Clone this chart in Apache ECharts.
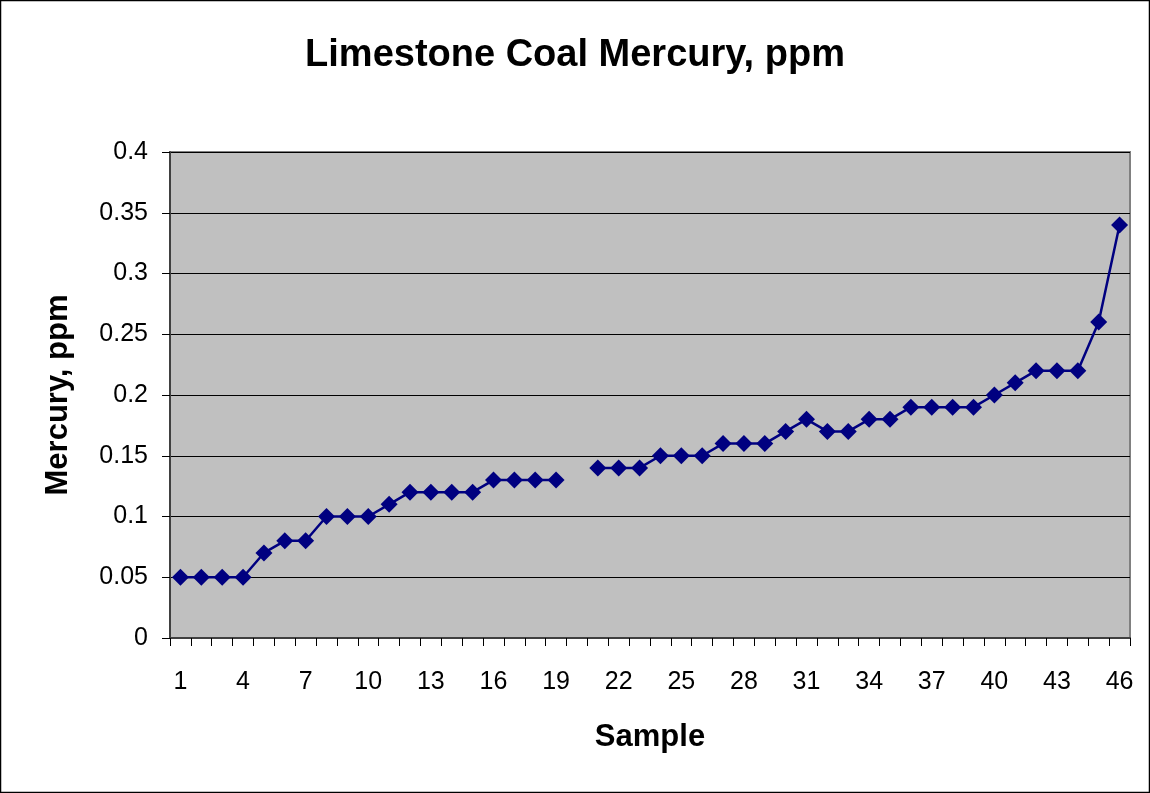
<!DOCTYPE html>
<html>
<head>
<meta charset="utf-8">
<script src="https://cdn.jsdelivr.net/npm/echarts@6/dist/echarts.min.js"></script>
<style>
html,body{margin:0;padding:0;background:#fff;}
#chart{width:1150px;height:793px;}
</style>
</head>
<body>
<div id="chart"></div>
<script>
const samples = Array.from({length: 46}, (_, i) => String(i + 1));
const mercury = [0.05, 0.05, 0.05, 0.05, 0.07, 0.08, 0.08, 0.10, 0.10, 0.10,
  0.11, 0.12, 0.12, 0.12, 0.12, 0.13, 0.13, 0.13, 0.13, null,
  0.14, 0.14, 0.14, 0.15, 0.15, 0.15, 0.16, 0.16, 0.16, 0.17,
  0.18, 0.17, 0.17, 0.18, 0.18, 0.19, 0.19, 0.19, 0.19, 0.20,
  0.21, 0.22, 0.22, 0.22, 0.26, 0.34];
const yTicks = [0, 0.05, 0.1, 0.15, 0.2, 0.25, 0.3, 0.35, 0.4];

const chart = echarts.init(document.getElementById('chart'));
const FONT = 'Liberation Sans, Arial, sans-serif';
chart.setOption({
  animation: false,
  backgroundColor: '#ffffff',
  title: {
    text: 'Limestone Coal Mercury, ppm',
    left: 'center',
    top: 32,
    textStyle: {fontFamily: FONT, fontSize: 38, fontWeight: 'bold', color: '#000'}
  },
  graphic: [{
    type: 'rect',
    shape: {x: 0.5, y: 0.5, width: 1149, height: 792},
    style: {fill: 'none', stroke: '#000', lineWidth: 1.5},
    silent: true
  }],
  grid: {
    left: 170, right: 20, top: 152, bottom: 155,
    show: true, backgroundColor: '#C0C0C0', borderColor: '#808080', borderWidth: 2
  },
  xAxis: {
    type: 'category',
    data: samples,
    boundaryGap: true,
    name: 'Sample',
    nameLocation: 'middle',
    nameGap: 84,
    nameTextStyle: {fontFamily: FONT, fontSize: 31, fontWeight: 'bold', color: '#000'},
    axisLine: {show: true, lineStyle: {color: '#404040', width: 2}},
    axisTick: {show: true, interval: 0, length: 8, lineStyle: {color: '#000'}},
    axisLabel: {interval: 2, margin: 32, fontFamily: FONT, fontSize: 25, color: '#000'},
    splitLine: {show: false}
  },
  yAxis: {
    type: 'value',
    min: 0, max: 0.4, interval: 0.05,
    name: 'Mercury, ppm',
    nameLocation: 'middle',
    nameGap: 96,
    nameTextStyle: {fontFamily: FONT, fontSize: 31, fontWeight: 'bold', color: '#000'},
    axisLine: {show: true, lineStyle: {color: '#404040', width: 2}},
    axisTick: {show: true, length: 8, lineStyle: {color: '#000'}},
    axisLabel: {
      margin: 22, fontFamily: FONT, fontSize: 25, color: '#000',
      formatter: v => {
        const t = yTicks.find(k => Math.abs(k - v) < 1e-9);
        return String(t !== undefined ? t : v);
      }
    },
    splitLine: {show: true, lineStyle: {color: '#000', width: 1}}
  },
  series: [{
    type: 'line',
    data: mercury,
    connectNulls: false,
    symbol: 'diamond',
    symbolSize: 17,
    showAllSymbol: true,
    lineStyle: {color: '#000080', width: 2.5},
    itemStyle: {color: '#000080'}
  }]
});
</script>
</body>
</html>
